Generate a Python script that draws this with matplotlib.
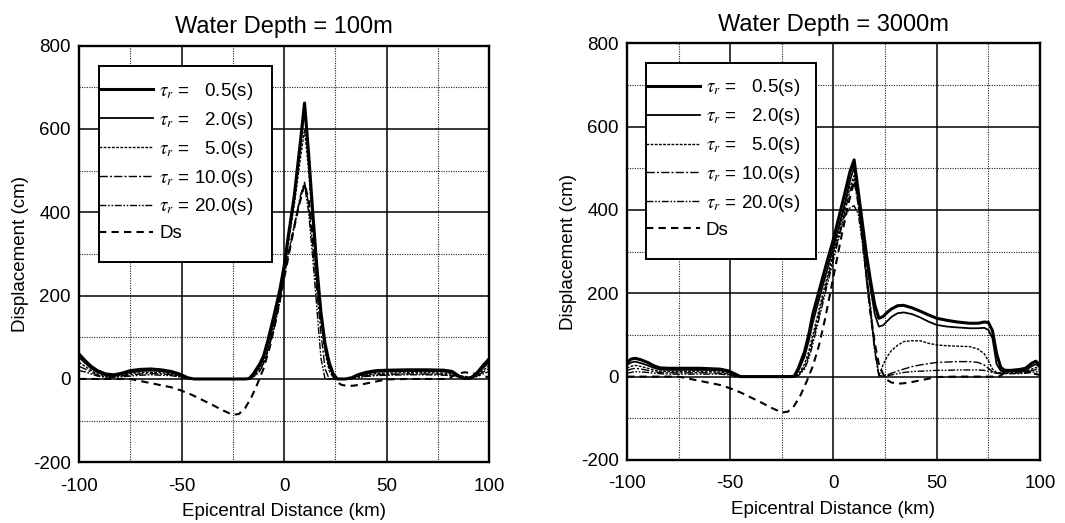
import numpy as np
import matplotlib
matplotlib.use("Agg")
import matplotlib.pyplot as plt
from matplotlib.lines import Line2D
from matplotlib.patches import Rectangle

plt.rcParams["font.family"] = ["Liberation Sans", "DejaVu Sans"]
plt.rcParams["mathtext.fontset"] = "stix"
plt.rcParams["axes.unicode_minus"] = False

# ---------------- data: water depth 100 m ----------------
x_100 = [-100, -97, -94, -91, -87, -83, -79, -75, -70, -65,
         -60, -55, -51, -47, -44, -30, -19, -17, -15, -12,
         -10, -8, -5, -2, 0, 2, 5, 8, 10, 12,
         14, 16, 18, 20, 22, 24, 26, 30, 33, 36,
         40, 45, 50, 60, 70, 78, 82, 85, 88, 91,
         94, 97, 100]

t05_100 = [60, 44, 30, 20, 12, 10, 14, 20, 23, 24,
           22, 18, 12, 3, 0, 0, 0, 1, 12, 35,
           55, 90, 150, 215, 270, 340, 440, 570, 662, 540,
           400, 270, 160, 85, 40, 12, 0, 0, 3, 10,
           16, 20, 21, 22, 22, 21, 18, 8, 1, 2,
           14, 32, 48]
t2_100 = [52, 38, 25, 16, 9, 8, 11, 16, 19, 20,
          19, 15, 9, 2, 0, 0, 0, 1, 10, 30,
          50, 84, 142, 208, 265, 333, 432, 560, 648, 528,
          388, 262, 152, 76, 32, 8, 0, 0, 2, 8,
          13, 17, 18, 19, 19, 18, 15, 6, 1, 2,
          11, 26, 40]
t5_100 = [40, 30, 20, 12, 7, 6, 9, 13, 15, 16,
          15, 12, 7, 2, 0, 0, 0, 0, 7, 25,
          44, 76, 132, 198, 258, 322, 418, 530, 598, 500,
          370, 245, 140, 65, 20, 3, 0, 0, 1, 6,
          10, 13, 14, 15, 15, 14, 12, 8, 6, 5,
          10, 20, 32]
t10_100 = [30, 24, 16, 9, 5, 5, 7, 10, 12, 13,
           12, 10, 6, 1, 0, 0, 0, 0, 5, 20,
           38, 68, 122, 190, 250, 300, 370, 440, 472, 420,
           320, 210, 110, 25, 0, 0, 0, 0, 1, 4,
           8, 10, 11, 12, 12, 11, 9, 6, 4, 4,
           8, 16, 25]
t20_100 = [20, 17, 12, 7, 4, 4, 5, 7, 9, 10,
           9, 8, 5, 1, 0, 0, 0, 0, 4, 18,
           35, 64, 118, 185, 245, 295, 365, 435, 465, 400,
           290, 170, 50, 0, 0, 0, 0, 0, 1, 3,
           6, 8, 9, 10, 10, 9, 8, 5, 3, 3,
           6, 12, 18]

# ---------------- data: water depth 3000 m ----------------
x_3000 = [-100, -98, -96, -93, -90, -87, -84, -80, -75, -70,
          -65, -60, -55, -51, -48, -45, -30, -21, -19, -17,
          -14, -12, -10, -7, -4, 0, 3, 5, 8, 10,
          12, 14, 16, 18, 20, 22, 24, 26, 28, 31,
          34, 38, 42, 46, 50, 55, 60, 66, 70, 73,
          75, 77, 79, 81, 83, 86, 90, 93, 96, 98,
          100]

t05_3000 = [34, 42, 44, 40, 34, 26, 21, 20, 20, 20,
            20, 19, 18, 14, 7, 0, 0, 0, 1, 20,
            60, 100, 150, 205, 260, 330, 390, 430, 492, 520,
            445, 368, 292, 228, 172, 140, 144, 154, 162, 170,
            171, 165, 157, 148, 140, 135, 131, 128, 128, 131,
            130, 110, 55, 22, 15, 15, 17, 20, 32, 37,
            28]
t2_3000 = [28, 34, 36, 32, 27, 21, 17, 16, 16, 16,
           16, 16, 15, 11, 5, 0, 0, 0, 0, 14,
           48, 85, 130, 185, 240, 310, 368, 405, 470, 503,
           432, 355, 278, 210, 150, 120, 123, 133, 143, 152,
           154, 150, 142, 132, 124, 120, 118, 116, 116, 117,
           112, 92, 30, 14, 12, 12, 13, 15, 25, 30,
           22]
t5_3000 = [20, 25, 27, 24, 20, 16, 13, 12, 12, 12,
           12, 12, 11, 8, 3, 0, 0, 0, 0, 5,
           30, 60, 100, 160, 222, 298, 355, 395, 455, 482,
           420, 340, 250, 165, 70, 2, 28, 48, 62, 75,
           84, 86, 86, 80, 76, 74, 73, 72, 66, 55,
           38, 18, 10, 9, 10, 10, 11, 12, 18, 22,
           16]
t10_3000 = [14, 18, 20, 18, 15, 12, 10, 9, 9, 9,
            9, 9, 8, 6, 2, 0, 0, 0, 0, 3,
            22, 50, 88, 148, 210, 290, 345, 385, 445, 472,
            410, 330, 240, 155, 65, 2, 2, 4, 8, 13,
            18, 24, 28, 31, 34, 35, 36, 36, 34, 28,
            20, 12, 9, 8, 8, 8, 9, 10, 14, 17,
            12]
t20_3000 = [8, 10, 12, 11, 10, 8, 7, 6, 6, 6,
            6, 6, 6, 4, 1, 0, 0, 0, 0, 2,
            18, 42, 78, 138, 200, 280, 340, 380, 405, 410,
            390, 320, 230, 145, 60, 2, 1, 2, 4, 7,
            10, 12, 13, 14, 15, 15, 16, 16, 16, 15,
            13, 10, 8, 7, 7, 7, 7, 8, 10, 12,
            9]

# static seafloor displacement (same in both panels)
x_ds = [-100, -75, -70, -65, -60, -55, -50, -45, -40, -35,
        -30, -25, -22, -19, -16, -13, -10, -7, -4, 0,
        4, 7, 10, 12, 14, 16, 18, 20, 22, 25,
        28, 31, 34, 38, 42, 46, 50, 60, 70, 80,
        84, 88, 92, 96, 100]
y_ds = [0, 0, -5, -10, -15, -20, -28, -38, -50, -62,
        -75, -86, -84, -70, -45, -12, 25, 75, 140, 240,
        340, 410, 468, 430, 340, 240, 150, 80, 30, -5,
        -14, -17, -16, -13, -9, -5, -1, 0, 0, 0,
        12, 16, 14, 8, 4]

labels = [r"$\tau_r$ =   0.5(s)", r"$\tau_r$ =   2.0(s)", r"$\tau_r$ =   5.0(s)",
          r"$\tau_r$ = 10.0(s)", r"$\tau_r$ = 20.0(s)", "Ds"]

styles = [
    dict(ls="-", lw=2.2),
    dict(ls="-", lw=1.3),
    dict(ls=(0, (2, 1)), lw=1.0),
    dict(ls=(0, (6, 1.5, 1.5, 1.5)), lw=1.0),
    dict(ls=(0, (5, 1.2, 1.2, 1.2, 1.2, 1.2)), lw=1.0),
    dict(ls=(0, (3.5, 2.5)), lw=1.5),
]


def setup_axes(ax, title):
    ax.set_xlim(-100, 100)
    ax.set_ylim(-200, 800)
    ax.set_xticks([-100, -50, 0, 50, 100])
    ax.set_yticks([-200, 0, 200, 400, 600, 800])
    ax.set_xticks([-75, -25, 25, 75], minor=True)
    ax.set_yticks([-100, 100, 300, 500, 700], minor=True)
    ax.grid(which="major", color="black", lw=1.1, ls="-")
    ax.grid(which="minor", color="#222222", lw=0.8, ls=(0, (1, 1.2)))
    ax.set_axisbelow(True)
    ax.tick_params(which="both", length=0, labelsize=13.5)
    ax.tick_params(axis="x", pad=11)
    ax.tick_params(axis="y", pad=6)
    for s in ax.spines.values():
        s.set_linewidth(1.7)
    ax.set_title(title, fontsize=17, pad=9)
    ax.set_xlabel("Epicentral Distance (km)", fontsize=13.5, labelpad=6)
    ax.set_ylabel("Displacement (cm)", fontsize=13.5, labelpad=3)


def add_legend(ax, box):
    x0, y0, x1, y1 = box
    ax.add_patch(Rectangle((x0, y0), x1 - x0, y1 - y0, transform=ax.transAxes,
                           facecolor="white", edgecolor="black", lw=1.4, zorder=5))
    handles = [Line2D([], [], color="black", linestyle=st["ls"], lw=st["lw"]) for st in styles]
    leg = ax.legend(handles, labels, loc="upper left", bbox_to_anchor=(x0, y1 - 0.035),
                    frameon=False, borderpad=0, borderaxespad=0, handlelength=2.9,
                    handletextpad=0.3, labelspacing=0.42, fontsize=13.5)
    leg.set_zorder(6)


fig = plt.figure(figsize=(10.65, 5.23), dpi=100)
ax1 = fig.add_axes([0.0742, 0.116, 0.385, 0.797])
ax2 = fig.add_axes([0.5887, 0.1205, 0.3878, 0.797])

series_100 = [t05_100, t2_100, t5_100, t10_100, t20_100]
series_3000 = [t05_3000, t2_3000, t5_3000, t10_3000, t20_3000]

for ax, xs, series in [(ax1, x_100, series_100), (ax2, x_3000, series_3000)]:
    for ys, st in zip(series, styles[:5]):
        ax.plot(xs, ys, color="black", linestyle=st["ls"], lw=st["lw"], zorder=3)
    ax.plot(x_ds, y_ds, color="black", linestyle=styles[5]["ls"], lw=styles[5]["lw"], zorder=3)

setup_axes(ax1, "Water Depth = 100m")
setup_axes(ax2, "Water Depth = 3000m")
add_legend(ax1, (0.049, 0.48, 0.471, 0.95))
add_legend(ax2, (0.046, 0.482, 0.458, 0.953))

fig.savefig("out.png", dpi=100)
